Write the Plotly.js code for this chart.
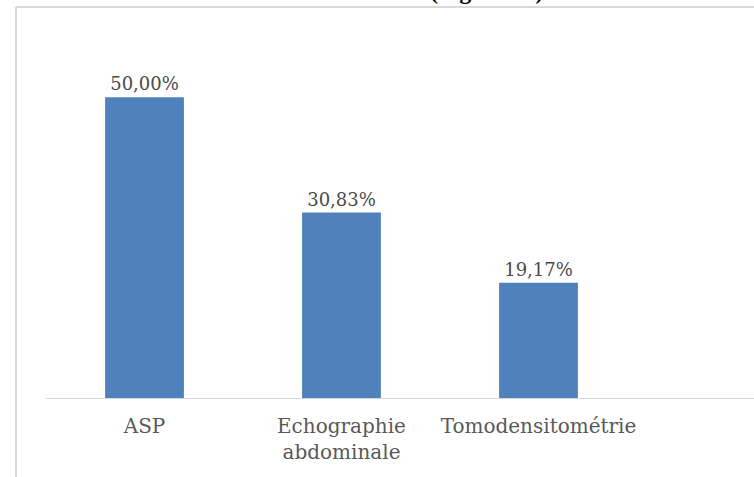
<!DOCTYPE html>
<html>
<head>
<meta charset="utf-8">
<script src="https://cdn.plot.ly/plotly-3.0.1.min.js"></script>
<style>
  html, body { margin: 0; padding: 0; background: #fff; }
  #chart { width: 754px; height: 477px; }
</style>
</head>
<body>
<div id="chart"></div>
<script>
const categories = ["ASP", "Echographie<br>abdominale", "Tomodensitométrie"];
const values = [50.00, 30.83, 19.17];
const valueLabels = ["50,00%", "30,83%", "19,17%"];
const titleText = "(Figure 12)";

const trace = {
  type: "bar",
  x: [0, 1, 2],
  y: values,
  text: valueLabels,
  texttemplate: "%{text}",
  textposition: "outside",
  cliponaxis: false,
  textfont: { family: "DejaVu Serif, serif", size: 18, color: "#4a4a4a" },
  marker: { color: "#4f81bd" },
  width: 0.4,
  hoverinfo: "skip"
};

const layout = {
  width: 754,
  height: 477,
  margin: { l: 46, r: 0, t: 37, b: 79, pad: 0 },
  paper_bgcolor: "#ffffff",
  plot_bgcolor: "#ffffff",
  showlegend: false,
  xaxis: {
    range: [-0.5, 3.094],
    tickmode: "array",
    tickvals: [0, 1, 2],
    ticktext: categories,
    ticks: "",
    ticklabelstandoff: 10,
    showgrid: false,
    zeroline: false,
    showline: true,
    linecolor: "#d9d9d9",
    linewidth: 1,
    tickfont: { family: "DejaVu Serif, serif", size: 20, color: "#595959" },
    fixedrange: true
  },
  yaxis: {
    range: [0, 60],
    visible: false,
    showgrid: false,
    zeroline: false,
    fixedrange: true
  },
  shapes: [
    { type: "line", xref: "paper", yref: "paper",
      x0: -30/708, x1: -30/708, y0: (398-477)/361, y1: (398-7)/361,
      line: { color: "#d9d9d9", width: 2 } },
    { type: "line", xref: "paper", yref: "paper",
      x0: -30/708, x1: 1.05, y0: (398-7)/361, y1: (398-7)/361,
      line: { color: "#d9d9d9", width: 2 } }
  ],
  annotations: [
    { text: titleText, xref: "paper", yref: "paper",
      x: (487-46)/708, y: (398-6)/361, xanchor: "center", yanchor: "bottom",
      showarrow: false,
      font: { family: "Liberation Serif, serif", size: 24, color: "#000000", weight: "bold" } }
  ]
};

Plotly.newPlot("chart", [trace], layout, { staticPlot: true, displayModeBar: false });
</script>
</body>
</html>
